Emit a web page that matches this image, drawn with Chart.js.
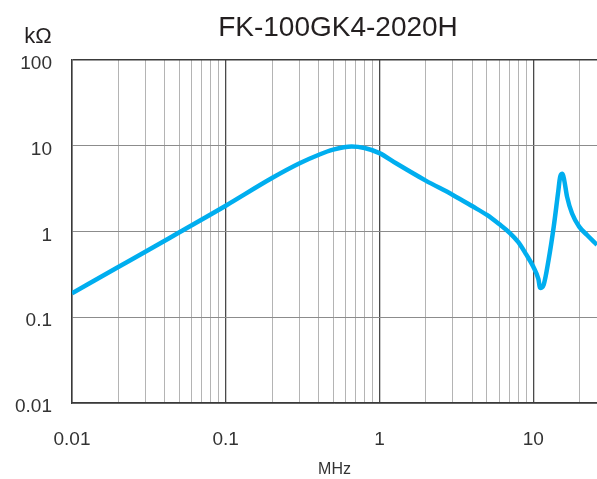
<!DOCTYPE html>
<html>
<head>
<meta charset="utf-8">
<script src="https://cdn.jsdelivr.net/npm/chart.js@4.4.1/dist/chart.umd.min.js"></script>
<style>
  html, body { margin: 0; padding: 0; background: #ffffff; overflow: hidden; }
  #wrap { position: relative; width: 597px; height: 479px; }
  canvas { display: block; }
</style>
</head>
<body>
<div id="wrap"><canvas id="c"></canvas></div>
<script>
const chartTitle = 'FK-100GK4-2020H';
const yUnit = 'kΩ';
const xUnit = 'MHz';

const freqMHz = [0.01, 0.02, 0.03, 0.05, 0.1, 0.2, 0.3, 0.4, 0.5, 0.66, 0.8, 1, 1.29, 2, 3, 4, 5, 6, 7, 8, 9, 10, 10.8, 11.1, 11.7, 12.6, 13.6, 14.5, 15.0, 15.5, 15.9, 16.6, 17.9, 19.9, 22.4, 26];
const impedanceK = [0.19, 0.385, 0.58, 0.98, 2.0, 4.2, 6.2, 7.8, 9.0, 9.8, 9.4, 8.2, 6.2, 3.92, 2.67, 1.98, 1.56, 1.22, 0.97, 0.75, 0.54, 0.39, 0.28, 0.22, 0.24, 0.47, 1.14, 2.79, 4.4, 4.7, 4.0, 2.55, 1.62, 1.14, 0.91, 0.70];

const xTickValues = [0.01,0.02,0.03,0.04,0.05,0.06,0.07,0.08,0.09,
                     0.1,0.2,0.3,0.4,0.5,0.6,0.7,0.8,0.9,
                     1,2,3,4,5,6,7,8,9,
                     10,20];
const xTickLabels = {'0.01':'0.01','0.1':'0.1','1':'1','10':'10'};
const yTickValues = [0.01, 0.1, 1, 10, 100];
const yTickLabels = ['0.01', '0.1', '1', '10', '100'];

const points = freqMHz.map((f, i) => ({x: f, y: impedanceK[i]}));

function isDecade(v) {
  const l = Math.log10(v);
  return Math.abs(l - Math.round(l)) < 1e-9;
}
function keyOf(v) { return String(parseFloat(v.toPrecision(6))); }

const textPlugin = {
  id: 'extraText',
  afterDraw(chart) {
    const ctx = chart.ctx;
    ctx.save();
    ctx.fillStyle = '#231f20';
    ctx.textAlign = 'center';
    ctx.textBaseline = 'middle';
    ctx.font = '28px "Liberation Sans", Arial, sans-serif';
    ctx.fillText(chartTitle, 338, 28);
    ctx.font = '22px "Liberation Sans", Arial, sans-serif';
    ctx.fillText(yUnit, 38, 37);
    ctx.restore();
  }
};

new Chart(document.getElementById('c'), {
  type: 'line',
  data: {
    datasets: [{
      data: points,
      borderColor: '#00aeef',
      borderWidth: 4.5,
      pointRadius: 0,
      fill: false,
      cubicInterpolationMode: 'monotone'
    }]
  },
  options: {
    responsive: true,
    maintainAspectRatio: false,
    animation: false,
    layout: { padding: { top: 60, right: 0, bottom: 0, left: 0 } },
    plugins: { legend: { display: false }, title: { display: false }, tooltip: { enabled: false } },
    scales: {
      x: {
        type: 'logarithmic',
        min: 0.01,
        max: 26,
        afterBuildTicks(scale) { scale.ticks = xTickValues.map(v => ({value: v})); },
        afterFit(scale) { scale.height = 76; scale.paddingRight = 0; scale.paddingLeft = 0; },
        ticks: {
          autoSkip: false,
          maxRotation: 0,
          padding: 25,
          color: '#333333',
          font: { family: '"Liberation Sans", Arial, sans-serif', size: 19 },
          callback(value) { return xTickLabels[keyOf(value)] || ''; }
        },
        grid: {
          drawTicks: false,
          color(ctx) { return ctx.tick && isDecade(ctx.tick.value) ? '#4a4a4a' : '#b4b4b4'; },
          lineWidth(ctx) { return ctx.tick && isDecade(ctx.tick.value) ? 1.3 : 1; }
        },
        border: { color: '#3a3a3a', width: 1.5 },
        title: {
          display: true,
          text: xUnit,
          color: '#333333',
          font: { family: '"Liberation Sans", Arial, sans-serif', size: 16 },
          padding: { top: 0, bottom: 0 }
        }
      },
      y: {
        type: 'logarithmic',
        min: 0.01,
        max: 100,
        afterBuildTicks(scale) { scale.ticks = yTickValues.map(v => ({value: v})); },
        afterFit(scale) { scale.width = 72; },
        ticks: {
          autoSkip: false,
          padding: 20,
          labelOffset: 4,
          color: '#333333',
          font: { family: '"Liberation Sans", Arial, sans-serif', size: 19 },
          callback(value) {
            const i = yTickValues.findIndex(v => Math.abs(Math.log10(v) - Math.log10(value)) < 1e-9);
            return i >= 0 ? yTickLabels[i] : '';
          }
        },
        grid: {
          drawTicks: false,
          color(ctx) { return ctx.tick && ctx.tick.value >= 100 ? '#3a3a3a' : '#8c8c8c'; },
          lineWidth(ctx) { return ctx.tick && ctx.tick.value >= 100 ? 1.5 : 1; }
        },
        border: { color: '#3a3a3a', width: 1.5 }
      }
    }
  },
  plugins: [textPlugin]
});
</script>
</body>
</html>
